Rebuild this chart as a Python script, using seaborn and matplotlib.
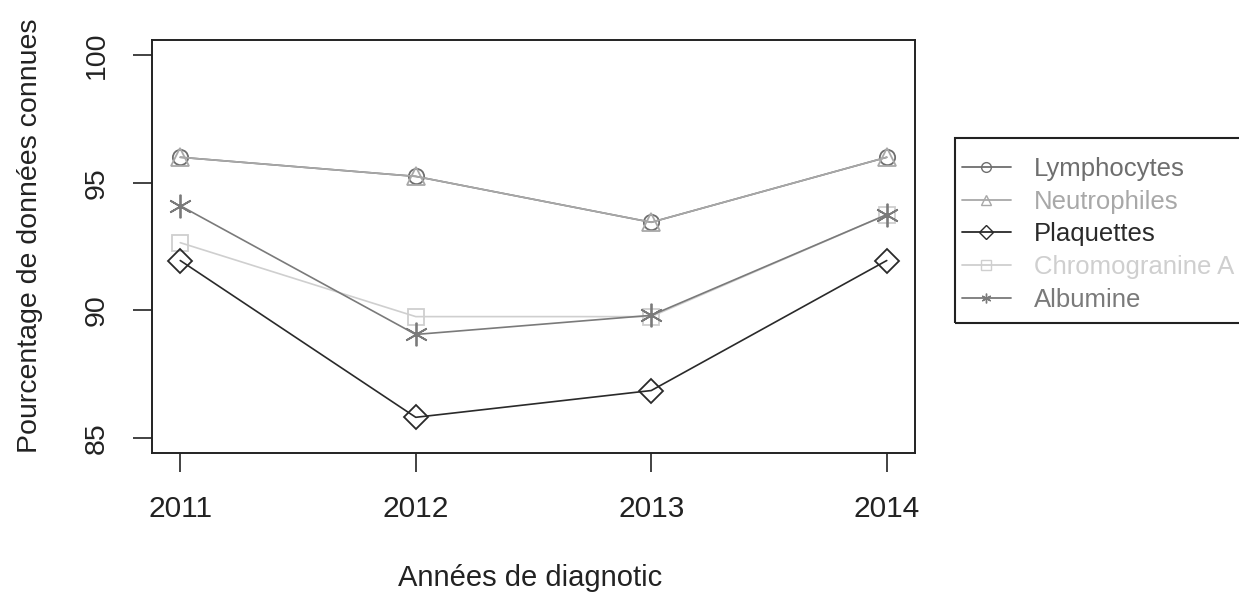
import matplotlib
matplotlib.use("Agg")
import matplotlib.pyplot as plt
from matplotlib.lines import Line2D
from matplotlib.patches import Rectangle
import seaborn as sns
import pandas as pd

years = [2011, 2012, 2013, 2014]
series_names = ["Lymphocytes", "Neutrophiles", "Plaquettes", "Chromogranine A", "Albumine"]
lymphocytes = [96.0, 95.25, 93.45, 96.0]
neutrophiles = [96.0, 95.25, 93.45, 96.0]
plaquettes = [91.95, 85.8, 86.85, 91.95]
chromogranine = [92.65, 89.75, 89.75, 93.75]
albumine = [94.1, 89.05, 89.8, 93.75]
y_ticks = [85, 90, 95, 100]

colors = ["#6e6e6e", "#a8a8a8", "#2a2a2a", "#cfcfcf", "#7a7a7a"]
markers = ["o", "^", "D", "s", (6, 2, 0)]
msizes = [11, 13, 12, 11, 17]

sns.set_theme(style="white")
plt.rcParams["font.family"] = ["Liberation Sans", "DejaVu Sans"]

W, H = 1239, 599
fig = plt.figure(figsize=(W / 100, H / 100), dpi=100)
ax = fig.add_axes([152 / W, 1 - 453 / H, (915 - 152) / W, (453 - 40) / H])

values = [lymphocytes, neutrophiles, plaquettes, chromogranine, albumine]
order = [3, 4, 2, 0, 1]
for i in order:
    df = pd.DataFrame({"year": years, "pct": values[i]})
    sns.lineplot(data=df, x="year", y="pct", ax=ax, color=colors[i],
                 marker=markers[i], markersize=msizes[i],
                 markerfacecolor="none", markeredgecolor=colors[i],
                 markeredgewidth=1.3, linewidth=1.2, legend=False)

ax.set_xlim(2011 - 0.12, 2014 + 0.12)
ax.set_ylim(85 - 0.6, 100 + 0.6)
ax.set_xticks(years)
ax.set_xticklabels([str(y) for y in years])
ax.set_yticks(y_ticks)
ax.set_yticklabels([str(t) for t in y_ticks], rotation=90, va="center")
for s in ax.spines.values():
    s.set_visible(True)
    s.set_color("#222222")
    s.set_linewidth(1.4)
ax.tick_params(axis="both", which="major", direction="out", length=13.5, width=1.2,
               color="#222222", labelcolor="#222222", bottom=True, left=True)
ax.tick_params(axis="x", labelsize=21.5, pad=17)
ax.tick_params(axis="y", labelsize=20.5, pad=17)
ax.grid(False)
ax.set_xlabel("")
ax.set_ylabel("")
fig.text(30 / W, 1 - 236 / H, "Pourcentage de données connues", rotation=90,
         ha="center", va="center", fontsize=20.5, color="#222222")
fig.text(530 / W, 1 - 578 / H, "Années de diagnotic", ha="center", va="center",
         fontsize=21, color="#222222")

handles = [Line2D([0], [0], color=colors[i], marker=markers[i], markersize=7,
                  markerfacecolor="none", markeredgecolor=colors[i], linewidth=1.3)
           for i in range(5)]
leg = fig.legend(handles, series_names, loc="upper left",
                 bbox_to_anchor=(962 / W, 1 - 157 / H), frameon=False,
                 fontsize=18.5, handlelength=1.9, handletextpad=0.9, labelspacing=0.34,
                 borderpad=0, borderaxespad=0)
for t, c in zip(leg.get_texts(), colors):
    t.set_color(c)
fig.patches.append(Rectangle((955 / W, 1 - 323 / H), (1250 - 955) / W, (323 - 138) / H,
                             transform=fig.transFigure, fill=False,
                             edgecolor="#222222", linewidth=1.5))

fig.savefig("out.png", dpi=100)
